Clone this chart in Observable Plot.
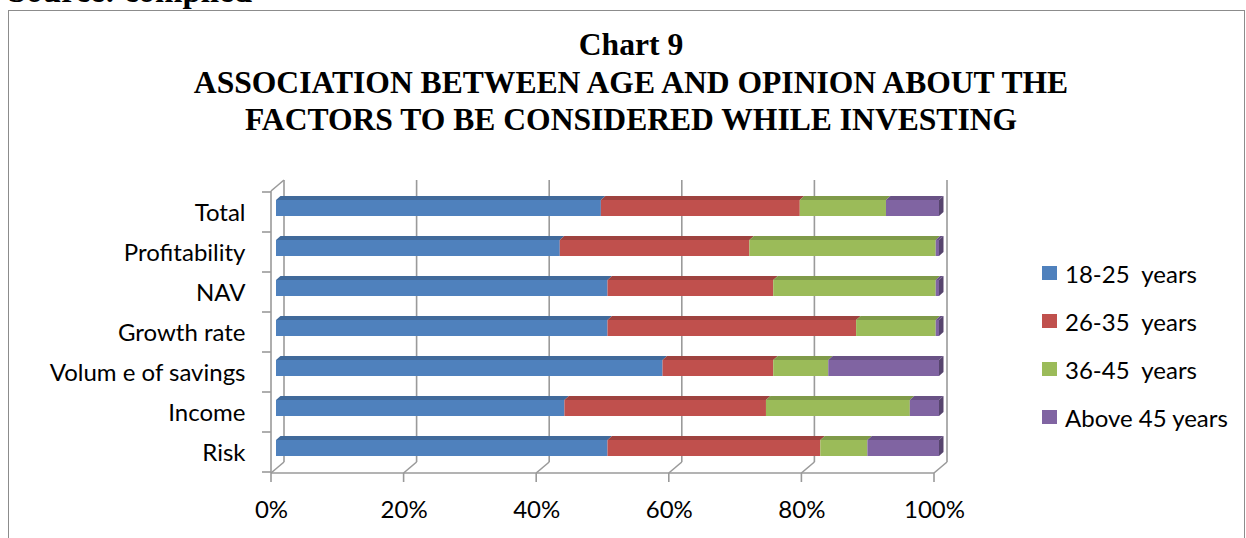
<!DOCTYPE html>
<html>
<head>
<meta charset="utf-8">
<script src="https://cdn.jsdelivr.net/npm/d3@7"></script>
<script src="https://cdn.jsdelivr.net/npm/@observablehq/plot@0.6"></script>
<style>
  html, body { margin: 0; padding: 0; background: #fff; }
  #page { position: relative; width: 1246px; height: 538px; overflow: hidden; background: #fff; }
  #source { position: absolute; left: 8px; top: -27px; font: bold 33px/37.5px "Liberation Serif", "Times New Roman", serif; color: #000; white-space: nowrap; }
  #box { position: absolute; left: 8px; top: 10px; right: 1px; bottom: -20px; border: 1.5px solid #8c8c8c; }
  #title { position: absolute; left: 31px; width: 1200px; top: 26px; text-align: center; font: bold 31.6px/37.5px "Liberation Serif", "Times New Roman", serif; color: #000; }
  #chart { position: absolute; left: 0; top: 0; }
  #legend { position: absolute; left: 1042px; top: 0; font: 24px "Lato", sans-serif; color: #000; }
  .item { position: absolute; left: 0; height: 30px; display: flex; align-items: center; white-space: pre; }
  .sw { width: 15px; height: 14px; margin-right: 8px; flex: none; }
</style>
</head>
<body>
<div id="page">
  <div id="source">Source: compiled</div>
  <div id="box"></div>
  <div id="chart"></div>
  <div id="title">Chart 9<br>ASSOCIATION BETWEEN AGE AND OPINION ABOUT THE<br>FACTORS TO BE CONSIDERED WHILE INVESTING</div>
  <div id="legend"></div>
</div>
<script>
// ---- data (percent of respondents) ----
const categories = ["Total", "Profitability", "NAV", "Growth rate", "Volum e of savings", "Income", "Risk"];
const ageGroups = ["18-25  years", "26-35  years", "36-45  years", "Above 45 years"];
const age18to25 = [49, 42.8, 50, 50, 58.3, 43.5, 50];
const age26to35 = [30, 28.6, 25, 37.5, 16.7, 30.4, 32.1];
const age36to45 = [13, 28.1, 24.5, 12, 8.3, 21.7, 7.1];
const above45   = [8, 0.5, 0.5, 0.5, 16.7, 4.4, 10.8];
const xTicks = [0, 20, 40, 60, 80, 100];
const colors = ["#4F81BD", "#C0504D", "#9BBB59", "#8064A2"];

const series = [age18to25, age26to35, age36to45, above45];

// stacked rows built from the arrays
const rows = [];
categories.forEach((cat, i) => {
  let acc = 0;
  series.forEach((s, k) => {
    rows.push({cat, age: ageGroups[k], k, x1: acc, x2: acc + s[i], last: k === series.length - 1});
    acc += s[i];
  });
});

// 3-D geometry (pixels)
const DEPTH_X = 13, DEPTH_Y = -11;   // wall depth
const BDX = 5, BDY = -4;             // bar front face offset
const TOPX = 4.5, TOPY = -4;         // bar depth
const INSET = 12;
const GRID = "#9a9a9a";

function walls() {
  return (index, scales, values, dim) => {
    const {x, y} = scales;
    const g = d3.create("svg:g").attr("fill", "none").attr("stroke", GRID).attr("stroke-width", 1.6);
    const top = dim.marginTop, bottom = dim.height - dim.marginBottom;
    const x0 = x(0), x100 = x(100);
    for (const t of xTicks) {
      const xf = x(t);
      g.append("line").attr("x1", xf + DEPTH_X).attr("x2", xf + DEPTH_X)
        .attr("y1", bottom + DEPTH_Y).attr("y2", top + DEPTH_Y);
      g.append("line").attr("x1", xf).attr("y1", bottom).attr("x2", xf + DEPTH_X).attr("y2", bottom + DEPTH_Y);
      g.append("line").attr("x1", xf).attr("x2", xf).attr("y1", bottom).attr("y2", bottom + 9);
    }
    g.append("line").attr("x1", x0).attr("x2", x100).attr("y1", bottom).attr("y2", bottom);
    g.append("line").attr("x1", x0).attr("x2", x0).attr("y1", top).attr("y2", bottom);
    g.append("line").attr("x1", x0).attr("y1", top).attr("x2", x0 + DEPTH_X).attr("y2", top + DEPTH_Y);
    const bw = y.bandwidth ? y.bandwidth() : (bottom - top) / categories.length;
    const edges = categories.map(c => y(c)).concat([y(categories[categories.length - 1]) + bw]);
    for (const e of edges) {
      g.append("line").attr("x1", x0 - 9).attr("x2", x0).attr("y1", e).attr("y2", e);
    }
    return g.node();
  };
}

function faces() {
  return (index, scales, values, dim) => {
    const {x, y} = scales;
    const g = d3.create("svg:g");
    const bw = y.bandwidth ? y.bandwidth() : 40;
    for (const d of rows) {
      const c = colors[d.k];
      const xa = x(d.x1) + BDX, xb = x(d.x2) + BDX;
      const yt = y(d.cat) + INSET + BDY, yb = y(d.cat) + bw - INSET + BDY;
      g.append("polygon")
        .attr("points", [[xa, yt], [xb, yt], [xb + TOPX, yt + TOPY], [xa + TOPX, yt + TOPY]].map(p => p.join(",")).join(" "))
        .attr("fill", d3.color(c).darker(0.55));
      if (d.last) {
        g.append("polygon")
          .attr("points", [[xb, yt], [xb + TOPX, yt + TOPY], [xb + TOPX, yb + TOPY], [xb, yb]].map(p => p.join(",")).join(" "))
          .attr("fill", d3.color(c).darker(1.1));
      }
    }
    return g.node();
  };
}

const plot = Plot.plot({
  width: 1246,
  height: 538,
  marginLeft: 271,
  marginRight: 312,
  marginTop: 191,
  marginBottom: 65,
  x: {domain: [0, 100]},
  y: {domain: categories, padding: 0},
  color: {domain: ageGroups, range: colors},
  style: {fontFamily: "Lato, sans-serif", fontSize: "24px", background: "transparent", color: "#000", overflow: "visible"},
  marks: [
    walls(),
    Plot.barX(rows, {x1: "x1", x2: "x2", y: "cat", fill: "age", dx: BDX, dy: BDY, insetTop: INSET, insetBottom: INSET}),
    faces(),
    Plot.axisY({tickSize: 0, tickPadding: 26, dy: 1, fontSize: 24, fill: "#000", label: null}),
    Plot.axisX({ticks: xTicks, tickSize: 0, tickPadding: 27, tickFormat: d => d + "%", fontSize: 24, fill: "#000", label: null})
  ]
});
document.getElementById("chart").appendChild(plot);

// legend from the plot's own color scale
const colorScale = plot.scale("color");
const legend = document.getElementById("legend");
const legendCenters = [273, 321, 369, 417];
colorScale.domain.forEach((name, i) => {
  const item = document.createElement("div");
  item.className = "item";
  item.style.top = (legendCenters[i] - 15) + "px";
  const sw = document.createElement("div");
  sw.className = "sw";
  sw.style.background = colorScale.apply(name);
  const label = document.createElement("span");
  label.textContent = name;
  item.appendChild(sw);
  item.appendChild(label);
  legend.appendChild(item);
});
</script>
</body>
</html>
